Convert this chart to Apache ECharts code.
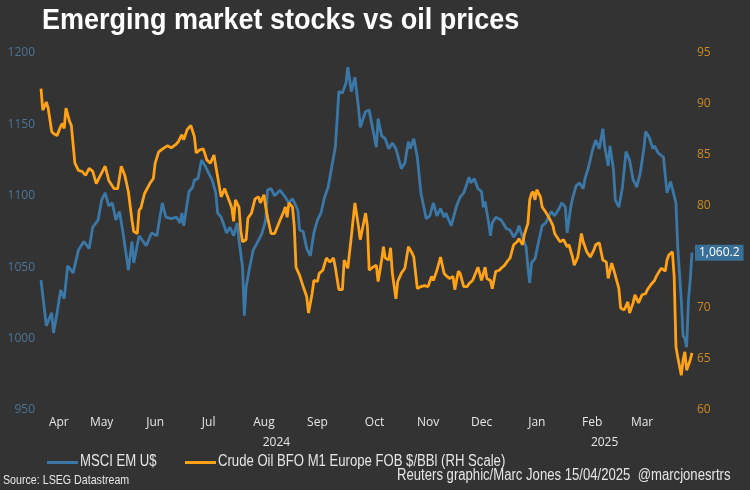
<!DOCTYPE html>
<html><head><meta charset="utf-8">
<script src="https://cdn.jsdelivr.net/npm/echarts@6/dist/echarts.min.js"></script>
<style>html,body{margin:0;padding:0;background:#333333;}#c{width:750px;height:490px;}</style>
</head><body><div id="c"></div>
<script>
const startDate = '2024-04-11';
const endDate = '2025-04-11';
const monthLabels = ['Apr','May','Jun','Jul','Aug','Sep','Oct','Nov','Dec','Jan','Feb','Mar'];
const monthLabelDates = ['2024-04-21','2024-05-15','2024-06-14','2024-07-14','2024-08-14','2024-09-13','2024-10-15','2024-11-14','2024-12-14','2025-01-14','2025-02-14','2025-03-14'];
const yearLabels = ['2024','2025'];
const yearLabelDates = ['2024-08-21','2025-02-21'];
const leftTicks = {min: 950, max: 1200, step: 50};
const rightTicks = {min: 60, max: 95, step: 5};
const titleText = 'Emerging market stocks vs oil prices';
const msciName = 'MSCI EM U$';
const oilName = 'Crude Oil BFO M1 Europe FOB $/BBl (RH Scale)';
const sourceText = 'Source: LSEG Datastream';
const creditText = 'Reuters graphic/Marc Jones 15/04/2025  @marcjonesrtrs';

// days since startDate
const msciDays = [0,3,6,7,9,11,13,15,18,21,24,27,29,32,34,36,38,40,42,44,46,49,51,52,55,56,59,62,65,68,70,73,76,78,79,80,83,85,86,88,90,92,93,96,98,99,101,103,104,106,108,110,111,113,114,115,117,118,119,122,124,126,127,129,131,134,137,139,141,144,145,147,149,151,153,155,157,158,159,161,163,165,166,167,169,171,172,174,176,178,179,182,184,186,188,189,191,193,195,197,199,202,204,206,207,209,211,213,216,218,220,222,224,226,227,230,231,233,235,237,240,241,243,245,247,248,249,251,252,253,255,258,261,263,265,267,268,270,272,273,274,275,277,279,281,283,284,286,288,290,292,294,295,297,298,300,302,304,305,307,309,311,313,315,316,318,319,321,322,324,326,328,330,332,333,334,336,338,339,341,343,344,346,347,349,351,353,354,356,357,359,360,361,362,363,364,365];
const msciValues = [1041,1009,1018,1004,1018,1034,1028,1051,1046,1062,1068,1063,1078,1083,1097,1102,1093,1095,1083,1089,1074,1048,1068,1053,1072,1071,1065,1074,1072,1095,1085,1084,1085,1081,1088,1079,1103,1106,1111,1112,1125,1121,1120,1111,1102,1088,1085,1078,1074,1078,1072,1081,1069,1050,1016,1036,1050,1049,1062,1069,1074,1083,1104,1105,1100,1104,1099,1095,1098,1090,1076,1075,1063,1058,1074,1083,1088,1089,1099,1106,1120,1134,1153,1173,1172,1179,1190,1173,1183,1162,1148,1159,1160,1147,1134,1154,1142,1140,1133,1137,1133,1119,1123,1138,1133,1140,1127,1102,1084,1086,1095,1086,1091,1085,1088,1079,1079,1093,1099,1102,1113,1109,1112,1105,1103,1092,1096,1081,1072,1081,1085,1083,1077,1076,1071,1075,1079,1071,1064,1050,1039,1053,1056,1068,1079,1081,1082,1089,1086,1090,1095,1092,1074,1092,1098,1107,1109,1105,1112,1120,1131,1139,1133,1147,1135,1121,1135,1118,1097,1092,1106,1131,1125,1111,1109,1106,1116,1133,1145,1141,1133,1135,1130,1131,1127,1102,1110,1105,1095,1064,1027,1002,1000,994,1027,1041,1060.2];

const oilDays = [0,1,3,4,6,7,9,11,12,13,14,16,17,19,21,23,25,27,29,31,33,36,38,41,43,45,47,49,51,52,54,55,56,58,61,63,64,66,69,71,73,76,77,79,80,82,84,86,87,89,91,93,95,97,98,100,101,103,104,106,107,108,109,111,112,113,115,116,118,120,122,123,125,126,127,129,131,132,134,136,137,138,139,141,142,143,145,147,149,150,152,153,155,156,158,160,162,164,165,167,169,170,172,174,176,178,179,182,183,184,186,188,189,191,192,193,195,196,197,199,200,202,204,206,208,209,211,213,215,217,219,220,222,224,226,227,229,231,232,234,235,237,239,240,242,243,245,246,247,249,250,252,253,255,257,258,260,262,263,265,267,268,270,271,273,274,275,276,277,278,280,281,283,285,287,288,289,291,293,295,296,298,299,301,303,304,306,308,310,311,313,315,317,318,320,322,324,325,327,329,330,332,333,335,337,339,340,342,344,345,347,348,350,351,352,354,355,356,357,359,360,361,362,364,365];
const oilValues = [91.5,89.4,90.2,89.6,87.3,87.1,86.9,87.8,88.1,87.6,89.6,88.3,87.9,84.2,83.5,83.4,83.0,83.7,83.4,82.2,82.9,83.9,82.5,81.7,81.7,83.9,83.0,81.4,78.6,77.5,77.3,79.6,79.8,81.2,82.2,82.7,84.2,85.3,85.7,85.9,85.7,86.1,86.3,87.0,86.5,87.5,87.9,86.8,85.2,85.5,85.6,84.5,84.2,85.0,83.9,81.9,80.9,81.7,81.2,80.3,79.8,78.5,80.6,79.9,77.6,76.5,76.7,78.8,79.3,80.7,80.9,80.3,81.1,79.9,78.9,77.3,77.3,77.4,78.6,79.4,79.9,78.9,80.3,79.9,78.0,74.0,73.2,72.1,71.1,69.5,71.4,72.7,72.6,73.4,73.7,74.9,74.5,74.9,74.0,71.8,71.8,74.7,73.9,77.0,80.3,78.0,76.7,79.3,78.0,73.7,74.0,74.2,72.6,74.7,76.0,74.9,74.7,75.9,73.4,70.9,72.6,73.4,73.9,76.0,75.4,75.0,71.9,72.1,72.2,72.1,73.1,72.7,73.7,75.0,73.4,73.2,72.9,73.1,71.8,73.6,73.4,72.1,72.1,72.4,72.7,72.6,74.0,73.9,72.7,74.0,72.9,72.7,71.9,73.6,73.7,73.9,74.2,74.7,74.9,76.2,76.5,76.8,76.2,77.2,78.3,80.6,81.2,81.4,80.6,81.6,80.9,79.9,79.4,78.8,78.1,77.3,77.2,76.5,76.7,76.0,76.2,75.0,74.2,75.0,77.3,76.5,75.5,75.0,75.7,76.2,76.4,74.7,74.5,72.9,74.4,73.2,71.9,70.0,69.8,70.6,69.5,70.5,71.3,70.5,71.3,71.4,71.8,72.3,72.7,73.1,73.7,73.9,73.6,74.7,75.2,75.5,73.1,66.2,65.2,63.4,64.9,65.7,63.9,64.9,65.6];

const DAY = 86400000;
function ts(s){const p=s.split('-').map(Number);return Date.UTC(p[0],p[1]-1,p[2]);}
const t0 = ts(startDate);
function dayOf(s){return Math.round((ts(s)-t0)/DAY);}
const spanDays = dayOf(endDate);
const msciData = msciDays.map((d,i)=>[d, msciValues[i]]);
const oilData = oilDays.map((d,i)=>[d, oilValues[i]]);
const monthPos = monthLabelDates.map(dayOf);
const yearPos = yearLabelDates.map(dayOf);
function labelAt(v, posArr, labels){const i = posArr.indexOf(Math.round(v));return i>=0?labels[i]:'';}

const sans = '"Liberation Sans",Arial,sans-serif';
const uiFont = '"Open Sans","Noto Sans",sans-serif';
const BLUE = '#3b78a8', ORANGE = '#ffa217', TXT = '#e6e6e6';

function narrowText(x, y, text, size, weight, fill, sx, align){
  return {type: 'text', x: x, y: y, scaleX: sx, silent: true,
    style: {text: text, fill: fill, font: (weight ? weight + ' ' : '') + size + 'px ' + sans,
      align: align || 'left', verticalAlign: 'middle'}};
}

const chart = echarts.init(document.getElementById('c'));
chart.setOption({
  backgroundColor: '#333333',
  animation: false,
  grid: {left: 41, right: 58, top: 53, bottom: 80},
  xAxis: [
    {type: 'value', min: 0, max: spanDays, axisLine: {show: false}, axisTick: {show: false}, splitLine: {show: false},
     axisLabel: {customValues: monthPos, formatter: v => labelAt(v, monthPos, monthLabels),
       color: TXT, fontFamily: uiFont, fontSize: 12, margin: 7, hideOverlap: false}},
    {type: 'value', min: 0, max: spanDays, position: 'bottom', offset: 20, axisLine: {show: false}, axisTick: {show: false}, splitLine: {show: false},
     axisLabel: {customValues: yearPos, formatter: v => labelAt(v, yearPos, yearLabels),
       color: TXT, fontFamily: uiFont, fontSize: 12, margin: 7, hideOverlap: false}}
  ],
  yAxis: [
    {type: 'value', min: leftTicks.min, max: leftTicks.max, interval: leftTicks.step, position: 'left',
     axisLine: {show: false}, axisTick: {show: false}, splitLine: {show: false},
     axisLabel: {formatter: v => String(v), color: '#4a7598', fontFamily: uiFont, fontSize: 12, margin: 6}},
    {type: 'value', min: rightTicks.min, max: rightTicks.max, interval: rightTicks.step, position: 'right',
     axisLine: {show: false}, axisTick: {show: false}, splitLine: {show: false},
     axisLabel: {formatter: v => String(v), color: '#c98a26', fontFamily: uiFont, fontSize: 12, margin: 5}}
  ],
  series: [
    {name: msciName, type: 'line', xAxisIndex: 0, yAxisIndex: 0, data: msciData, showSymbol: false,
     color: BLUE, lineStyle: {width: 2.8, color: BLUE}, z: 2,
     endLabel: {show: true, distance: 3, formatter: p => p.value[1].toLocaleString('en-US', {minimumFractionDigits: 1, maximumFractionDigits: 1}),
       color: '#ffffff', backgroundColor: '#3a6f98', padding: [2, 4, 2, 4], fontFamily: uiFont, fontSize: 12}},
    {name: oilName, type: 'line', xAxisIndex: 0, yAxisIndex: 1, data: oilData, showSymbol: false,
     color: ORANGE, lineStyle: {width: 2.8, color: ORANGE}, z: 3}
  ],
  graphic: [
    narrowText(42, 21, titleText, 30, 'bold', '#ffffff', 0.9),
    {type: 'rect', shape: {x: 47, y: 461, width: 31, height: 3}, style: {fill: BLUE}, silent: true},
    narrowText(80, 462, msciName, 16, '', TXT, 0.82),
    {type: 'rect', shape: {x: 185, y: 461, width: 31, height: 3}, style: {fill: ORANGE}, silent: true},
    narrowText(218, 462, oilName, 16, '', TXT, 0.82),
    narrowText(3, 480, sourceText, 13, '', TXT, 0.82),
    narrowText(397, 476, creditText, 16, '', TXT, 0.82)
  ]
});
</script></body></html>
